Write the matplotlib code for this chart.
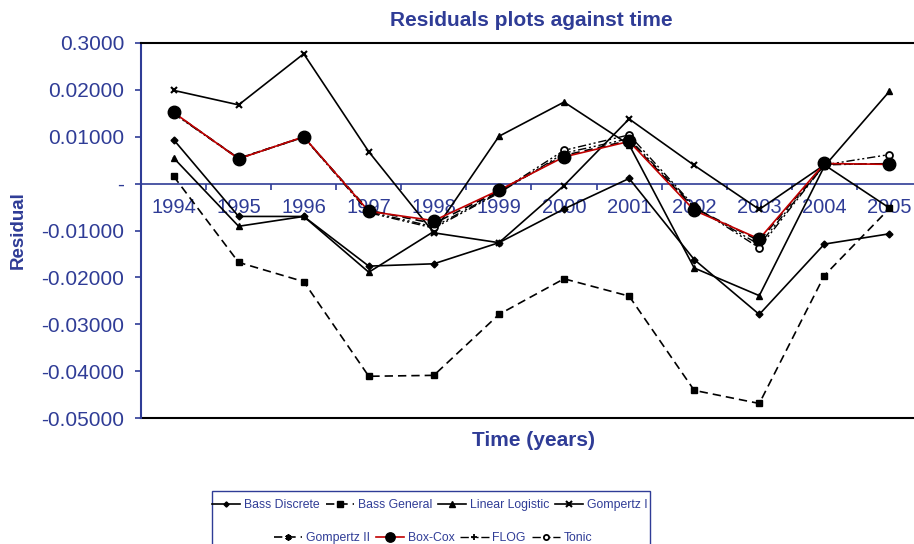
import matplotlib
matplotlib.use("Agg")
import matplotlib.pyplot as plt
import numpy as np
from matplotlib.patches import Rectangle

plt.rcParams['font.family'] = ['Liberation Sans', 'DejaVu Sans']

# residuals, one list per model
years = ['1994', '1995', '1996', '1997', '1998', '1999', '2000', '2001', '2002', '2003', '2004', '2005']
bass_discrete = [0.0094, -0.0070, -0.0070, -0.0176, -0.0171, -0.0126, -0.0054, 0.0011, -0.0162, -0.0279, -0.0129, -0.0107]
bass_general = [0.0016, -0.0168, -0.0209, -0.0411, -0.0409, -0.0279, -0.0203, -0.0240, -0.0441, -0.0469, -0.0196, -0.0053]
linear_logistic = [0.0055, -0.0091, -0.0070, -0.0189, -0.0102, 0.0101, 0.0174, 0.0083, -0.0180, -0.0239, 0.0037, 0.0197]
gompertz_1 = [0.0199, 0.0168, 0.0277, 0.0068, -0.0105, -0.0126, -0.0004, 0.0138, 0.0039, -0.0055, 0.0040, -0.0052]
gompertz_2 = [0.0151, 0.0054, 0.0099, -0.0057, -0.0085, -0.0016, 0.0060, 0.0092, -0.0052, -0.0122, 0.0042, 0.0042]
box_cox = [0.0152, 0.0053, 0.0100, -0.0059, -0.0079, -0.0014, 0.0057, 0.0090, -0.0057, -0.0118, 0.0043, 0.0041]
flog = [0.0150, 0.0053, 0.0099, -0.0062, -0.0095, -0.0020, 0.0065, 0.0096, -0.0050, -0.0130, 0.0040, 0.0043]
tonic = [0.0150, 0.0054, 0.0100, -0.0060, -0.0092, -0.0018, 0.0071, 0.0104, -0.0048, -0.0137, 0.0040, 0.0062]

ytick_vals = [0.03, 0.02, 0.01, 0.0, -0.01, -0.02, -0.03, -0.04, -0.05]
ytick_labels = ['0.3000', '0.02000', '0.01000', '-', '-0.01000', '-0.02000', '-0.03000', '-0.04000', '-0.05000']

blue = '#2F3C96'
red = '#C00000'
ddot = (0, (6, 2, 1.5, 2, 1.5, 2))

fig = plt.figure(figsize=(9.14, 5.44), dpi=100)
ax = fig.add_axes([141/914, 1-418/544, 781/914, 375/544])

x = np.arange(len(years))
lw = 1.2
h = []
h += ax.plot(x, bass_discrete, '-', color='k', lw=lw, marker='D', ms=3.5, label='Bass Discrete')
h += ax.plot(x, bass_general, '--', color='k', lw=lw, marker='s', ms=5, dashes=(5, 3), label='Bass General')
h += ax.plot(x, linear_logistic, '-', color='k', lw=lw, marker='^', ms=5, label='Linear Logistic')
h += ax.plot(x, gompertz_1, '-', color='k', lw=lw, marker='x', ms=5, mew=1.5, label='Gompertz I')
h += ax.plot(x, gompertz_2, '--', color='k', lw=lw, marker=(6, 2, 0), ms=6, mew=1.3, dashes=(5, 3), label='Gompertz II')
h += ax.plot(x, box_cox, '-', color=red, lw=lw, marker='o', ms=9, mfc='k', mec='k', label='Box-Cox', zorder=4)
h += ax.plot(x, flog, color='k', lw=1.0, linestyle=ddot, marker='+', ms=6, mew=1.3, label='FLOG')
h += ax.plot(x, tonic, color='k', lw=1.0, linestyle=ddot, marker='o', ms=5, mfc='white', mec='k', mew=1.3, label='Tonic')

ax.set_xlim(-0.5, 11.5)
ax.set_ylim(-0.05, 0.03)

# zero line doubles as the category axis
ax.spines['bottom'].set_position(('data', 0))
ax.spines['bottom'].set_color(blue)
ax.spines['bottom'].set_linewidth(1.2)
ax.spines['bottom'].set_zorder(1)
ax.spines['right'].set_visible(False)
ax.spines['top'].set_color('k')
ax.spines['top'].set_linewidth(1.5)
ax.spines['left'].set_color(blue)
ax.spines['left'].set_linewidth(1.5)
ax.axhline(-0.05, color='k', lw=1.5, clip_on=False)

ax.set_xticks(x, years)
ax.set_xticks(x[:-1] + 0.5, minor=True)
ax.tick_params(axis='x', which='major', length=0, pad=10, labelsize=14.5, labelcolor=blue)
ax.tick_params(axis='x', which='minor', length=4, width=1.2, direction='out', color=blue)

ax.set_yticks(ytick_vals, ytick_labels)
ax.tick_params(axis='y', length=4, width=1.2, color=blue, labelcolor=blue, labelsize=15, pad=8)

ax.set_title('Residuals plots against time', fontsize=15, fontweight='bold', color=blue, pad=12)
ax.set_ylabel('Residual', fontsize=13.5, fontweight='bold', color=blue)
ax.yaxis.set_label_coords(-0.146, 0.5)
ax.set_xlabel('Time (years)', fontsize=15, fontweight='bold', color=blue)
ax.xaxis.set_label_coords(0.503, -0.035)

labels = [l.get_label() for l in h]
common = dict(ncol=4, frameon=False, fontsize=8.8, handlelength=2.3, columnspacing=0.5,
              handletextpad=0.3, numpoints=1, markerscale=0.75, labelcolor=blue,
              loc='center', borderpad=0)
fig.legend(h[:4], labels[:4], bbox_to_anchor=(430/914, 1-505/544), **common)
fig.legend(h[4:], labels[4:], bbox_to_anchor=(433/914, 1-538/544), **common)
fig.add_artist(Rectangle((212/914, -0.01), (650-212)/914, (544-491)/544 + 0.01,
                         transform=fig.transFigure, fill=False, edgecolor=blue, lw=1.0))

fig.savefig('out.png', dpi=100)
